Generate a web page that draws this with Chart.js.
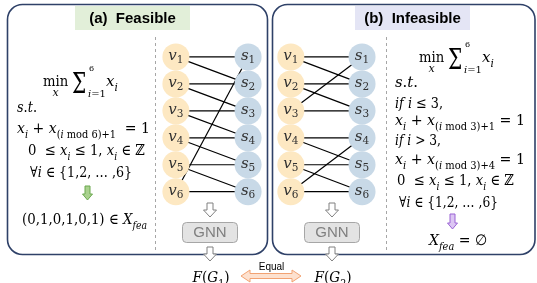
<!DOCTYPE html>
<html>
<head>
<meta charset="utf-8">
<script src="https://cdn.jsdelivr.net/npm/chart.js@4/dist/chart.umd.min.js"></script>
<style>
  html, body { margin: 0; padding: 0; background: #fff; }
  #diagram { display: block; }
</style>
</head>
<body>
<canvas id="diagram" width="537" height="283" style="width:537px;height:283px"></canvas>
<script>
// Graph data: rows of variable nodes v_i and constraint nodes s_j
const rows = [1, 2, 3, 4, 5, 6];
// edges as [v row, s row]
const feasibleEdges = [[1, 1], [1, 2], [2, 2], [2, 3], [3, 3], [3, 4], [4, 4], [4, 5], [5, 5], [5, 6], [6, 6], [6, 1]];
const infeasibleEdges = [[1, 1], [1, 2], [2, 2], [2, 3], [3, 3], [3, 1], [4, 4], [4, 5], [5, 5], [5, 6], [6, 6], [6, 4]];

// Text lines
const panelTitles = ['(a)  Feasible', '(b)  Infeasible'];
const feasibleLines = ['s.t.', 'x_{i} + x_{(i mod 6)+1}  = 1', '0  \u2264 x_{i} \u2264 1, x_{i} \u2208 \u2124', '\u2200i \u2208 {1,2, \u2026 ,6}', '(0,1,0,1,0,1) \u2208 X_{fea}'];
const infeasibleLines = ['s.t.', 'if i \u2264 3,', 'x_{i} + x_{(i mod 3)+1} = 1', 'if i > 3,', 'x_{i} + x_{(i mod 3)+4} = 1', '0  \u2264 x_{i} \u2264 1, x_{i} \u2208 \u2124', '\u2200i \u2208 {1,2, \u2026 ,6}', 'X_{fea} = \u2205'];
const outputs = ['F(G_{1})', 'F(G_{2})'];

// Layout
const W = 537, H = 283;
const TOP_ROW_PX = 48, ROW_GAP_PX = 29.8;
const yMin = 1 - TOP_ROW_PX / ROW_GAP_PX;
const yMax = yMin + H / ROW_GAP_PX;
const COL = { leftV: 171, leftS: 247, rightV: 292, rightS: 367 };
const NODE_R = 13.5;
const V_COLOR = '#fde8c2';
const S_COLOR = '#c8d9e7';
const SERIF = '"DejaVu Serif", serif';
const SANS = '"Liberation Sans", Arial, sans-serif';
// [left, right, baseline] box of each formula line
const leftBoxes = [[17, 37, 112], [17, 150, 133], [28, 145, 155], [30, 132, 177], [22, 147, 224]];
const rightBoxes = [[395, 418, 87], [395, 443, 108], [395, 525, 125], [395, 441, 145], [395, 525, 164], [397, 514, 185], [399, 498, 207], [429, 487, 245]];

function nodeSet(x, color) {
  return {
    data: rows.map(r => ({ x: x, y: r })),
    pointRadius: NODE_R,
    pointBackgroundColor: color,
    pointBorderWidth: 0,
    showLine: false,
    order: 0
  };
}

function edgeSets(edges, vx, sx) {
  return edges.map(e => ({
    data: [{ x: vx, y: e[0] }, { x: sx, y: e[1] }],
    showLine: true,
    borderColor: '#000',
    borderWidth: 1.2,
    pointRadius: 0,
    order: 1
  }));
}

// tiny math text parser: _{..} subscript, ^{..} superscript, letters italic except min/mod
function parseMath(str) {
  const segs = [];
  let i = 0, buf = '';
  while (i < str.length) {
    if ((str[i] === '_' || str[i] === '^') && str[i + 1] === '{') {
      if (buf) segs.push({ t: buf, m: 0 });
      buf = '';
      const end = str.indexOf('}', i);
      segs.push({ t: str.slice(i + 2, end), m: str[i] === '_' ? 1 : 2 });
      i = end + 1;
    } else {
      buf += str[i];
      i++;
    }
  }
  if (buf) segs.push({ t: buf, m: 0 });
  const runs = [];
  segs.forEach(s => {
    s.t.split(/([A-Za-z]+)/).forEach(p => {
      if (!p) return;
      const it = /^[A-Za-z]+$/.test(p) && !['min', 'mod'].includes(p);
      runs.push({ t: p, m: s.m, it: it });
    });
  });
  return runs;
}

function runFont(run, size) {
  const sz = run.m ? size * 0.7 : size;
  return (run.it ? 'italic ' : '') + sz + 'px ' + SERIF;
}

// draws math text; if fitW is given the run is squeezed/stretched to that width
function drawMath(ctx, str, x, y, size, align, subDrop, fitW) {
  const drop = subDrop === undefined ? 0.3 : subDrop;
  const runs = parseMath(str);
  let total = 0;
  runs.forEach(r => { ctx.font = runFont(r, size); r.w = ctx.measureText(r.t).width; total += r.w; });
  const k = fitW ? fitW / total : 1;
  ctx.save();
  ctx.translate(align === 'center' ? x - total * k / 2 : x, y);
  ctx.scale(k, 1);
  ctx.textAlign = 'left';
  ctx.textBaseline = 'alphabetic';
  let cx = 0;
  runs.forEach(r => {
    ctx.font = runFont(r, size);
    const dy = r.m === 1 ? size * drop : r.m === 2 ? -size * 0.42 : 0;
    ctx.fillText(r.t, cx, dy);
    cx += r.w;
  });
  ctx.restore();
}

function drawObjective(ctx, x, y) {
  ctx.fillStyle = '#000';
  ctx.textAlign = 'left';
  ctx.textBaseline = 'alphabetic';
  ctx.font = '15px ' + SERIF;
  ctx.save();
  ctx.translate(x, y);
  ctx.scale(0.88, 1);
  ctx.fillText('min', 0, 0);
  ctx.restore();
  ctx.font = 'italic 11px ' + SERIF;
  ctx.textAlign = 'center';
  ctx.fillText('x', x + 12.5, y + 10);
  ctx.textAlign = 'left';
  ctx.save();
  ctx.translate(x + 29, y + 7);
  ctx.scale(0.72, 1);
  ctx.font = '28px ' + SERIF;
  ctx.fillText('\u03A3', 0, 0);
  ctx.restore();
  ctx.font = '8px ' + SERIF;
  ctx.fillText('6', x + 46, y - 15);
  drawMath(ctx, 'i=1', x + 45, y + 11, 10, 'left');
  drawMath(ctx, 'x_{i}', x + 63, y, 15, 'left');
}

function downArrow(ctx, cx, top, bottom, shaftW, headW, headH, fill, stroke) {
  const s = shaftW / 2, h = headW / 2, hy = bottom - headH;
  ctx.beginPath();
  ctx.moveTo(cx - s, top);
  ctx.lineTo(cx + s, top);
  ctx.lineTo(cx + s, hy);
  ctx.lineTo(cx + h, hy);
  ctx.lineTo(cx, bottom);
  ctx.lineTo(cx - h, hy);
  ctx.lineTo(cx - s, hy);
  ctx.closePath();
  ctx.fillStyle = fill;
  ctx.fill();
  ctx.strokeStyle = stroke;
  ctx.lineWidth = 1;
  ctx.stroke();
}

function doubleArrow(ctx, x1, x2, cy, halfH, shaftHalf, headL, fill, stroke) {
  ctx.beginPath();
  ctx.moveTo(x1, cy);
  ctx.lineTo(x1 + headL, cy - halfH);
  ctx.lineTo(x1 + headL, cy - shaftHalf);
  ctx.lineTo(x2 - headL, cy - shaftHalf);
  ctx.lineTo(x2 - headL, cy - halfH);
  ctx.lineTo(x2, cy);
  ctx.lineTo(x2 - headL, cy + halfH);
  ctx.lineTo(x2 - headL, cy + shaftHalf);
  ctx.lineTo(x1 + headL, cy + shaftHalf);
  ctx.lineTo(x1 + headL, cy + halfH);
  ctx.closePath();
  ctx.fillStyle = fill;
  ctx.fill();
  ctx.strokeStyle = stroke;
  ctx.lineWidth = 1;
  ctx.stroke();
}

function roundBox(ctx, x, y, w, h, r) {
  ctx.beginPath();
  ctx.roundRect(x, y, w, h, r);
}

const diagramPlugin = {
  id: 'diagram',
  beforeDatasetsDraw(chart) {
    const ctx = chart.ctx;
    ctx.save();
    // panels
    ctx.strokeStyle = '#2f4168';
    ctx.lineWidth = 1.6;
    roundBox(ctx, 7.5, 4.5, 260, 250, 15);
    ctx.stroke();
    roundBox(ctx, 272.5, 4.5, 262.5, 250, 15);
    ctx.stroke();
    // title boxes
    ctx.fillStyle = '#e2efd9';
    ctx.fillRect(75, 6, 115, 24);
    ctx.fillStyle = '#e4e5f5';
    ctx.fillRect(355, 6, 115, 24);
    ctx.fillStyle = '#000';
    ctx.font = 'bold 15px ' + SANS;
    ctx.textAlign = 'center';
    ctx.textBaseline = 'middle';
    ctx.fillText(panelTitles[0], 132.5, 18.5);
    ctx.fillText(panelTitles[1], 412.5, 18.5);
    // dashed separators
    ctx.strokeStyle = '#a6a6a6';
    ctx.lineWidth = 1;
    ctx.setLineDash([3, 3]);
    ctx.beginPath();
    ctx.moveTo(155.5, 37);
    ctx.lineTo(155.5, 250);
    ctx.moveTo(386.5, 37);
    ctx.lineTo(386.5, 250);
    ctx.stroke();
    ctx.setLineDash([]);
    ctx.restore();
  },
  afterDatasetsDraw(chart) {
    const ctx = chart.ctx;
    const xs = chart.scales.x, ys = chart.scales.y;
    ctx.save();
    ctx.fillStyle = '#333';
    // node labels
    rows.forEach(r => {
      const py = ys.getPixelForValue(r) + 3;
      drawMath(ctx, 'v_{' + r + '}', xs.getPixelForValue(COL.leftV), py, 15, 'center', 0.2);
      drawMath(ctx, 's_{' + r + '}', xs.getPixelForValue(COL.leftS), py, 15, 'center', 0.2);
      drawMath(ctx, 'v_{' + r + '}', xs.getPixelForValue(COL.rightV), py, 15, 'center', 0.2);
      drawMath(ctx, 's_{' + r + '}', xs.getPixelForValue(COL.rightS), py, 15, 'center', 0.2);
    });

    // left formulation
    ctx.fillStyle = '#000';
    drawObjective(ctx, 43, 86);
    feasibleLines.forEach((t, i) => {
      const b = leftBoxes[i];
      drawMath(ctx, t, b[0], b[2], 15, 'left', 0.3, b[1] - b[0]);
    });
    downArrow(ctx, 87.5, 186, 200, 5, 10, 6, '#a9d18e', '#6aa84f');

    // right formulation
    ctx.fillStyle = '#000';
    drawObjective(ctx, 419, 62);
    infeasibleLines.forEach((t, i) => {
      const b = rightBoxes[i];
      drawMath(ctx, t, b[0], b[2], 15, 'left', 0.3, b[1] - b[0]);
    });
    downArrow(ctx, 452.5, 214, 229, 5, 10, 6, '#dcc6f3', '#9a63d4');

    // GNN pipelines
    [210, 332].forEach((cx, i) => {
      downArrow(ctx, cx, 203, 217, 6, 13, 7, '#fff', '#808080');
      roundBox(ctx, cx - 27.5, 222.5, 55, 20, 4);
      ctx.fillStyle = '#e3e3e3';
      ctx.fill();
      ctx.strokeStyle = '#a6a6a6';
      ctx.lineWidth = 1;
      ctx.stroke();
      ctx.fillStyle = '#7f7f7f';
      ctx.font = '15px ' + SANS;
      ctx.textAlign = 'center';
      ctx.textBaseline = 'middle';
      ctx.fillText('GNN', cx, 233);
      downArrow(ctx, cx, 247, 261, 6, 13, 7, '#fff', '#808080');
      ctx.fillStyle = '#000';
      drawMath(ctx, outputs[i], cx + 1, 282, 15, 'center', 0.3, 37);
    });

    // equality arrow
    doubleArrow(ctx, 241, 301, 276, 6, 2.5, 9, '#fde1cf', '#f2a272');
    ctx.fillStyle = '#000';
    ctx.font = '10px ' + SANS;
    ctx.textAlign = 'center';
    ctx.textBaseline = 'alphabetic';
    ctx.fillText('Equal', 271.5, 270);
    ctx.restore();
  }
};

new Chart(document.getElementById('diagram'), {
  type: 'scatter',
  data: {
    datasets: [
      nodeSet(COL.leftV, V_COLOR),
      nodeSet(COL.leftS, S_COLOR),
      nodeSet(COL.rightV, V_COLOR),
      nodeSet(COL.rightS, S_COLOR),
      ...edgeSets(feasibleEdges, COL.leftV, COL.leftS),
      ...edgeSets(infeasibleEdges, COL.rightV, COL.rightS)
    ]
  },
  options: {
    responsive: false,
    animation: false,
    events: [],
    layout: { padding: 0 },
    plugins: { legend: { display: false }, tooltip: { enabled: false } },
    scales: {
      x: { type: 'linear', min: 0, max: W, display: false },
      y: { type: 'linear', min: yMin, max: yMax, reverse: true, display: false }
    }
  },
  plugins: [diagramPlugin]
});
</script>
</body>
</html>
